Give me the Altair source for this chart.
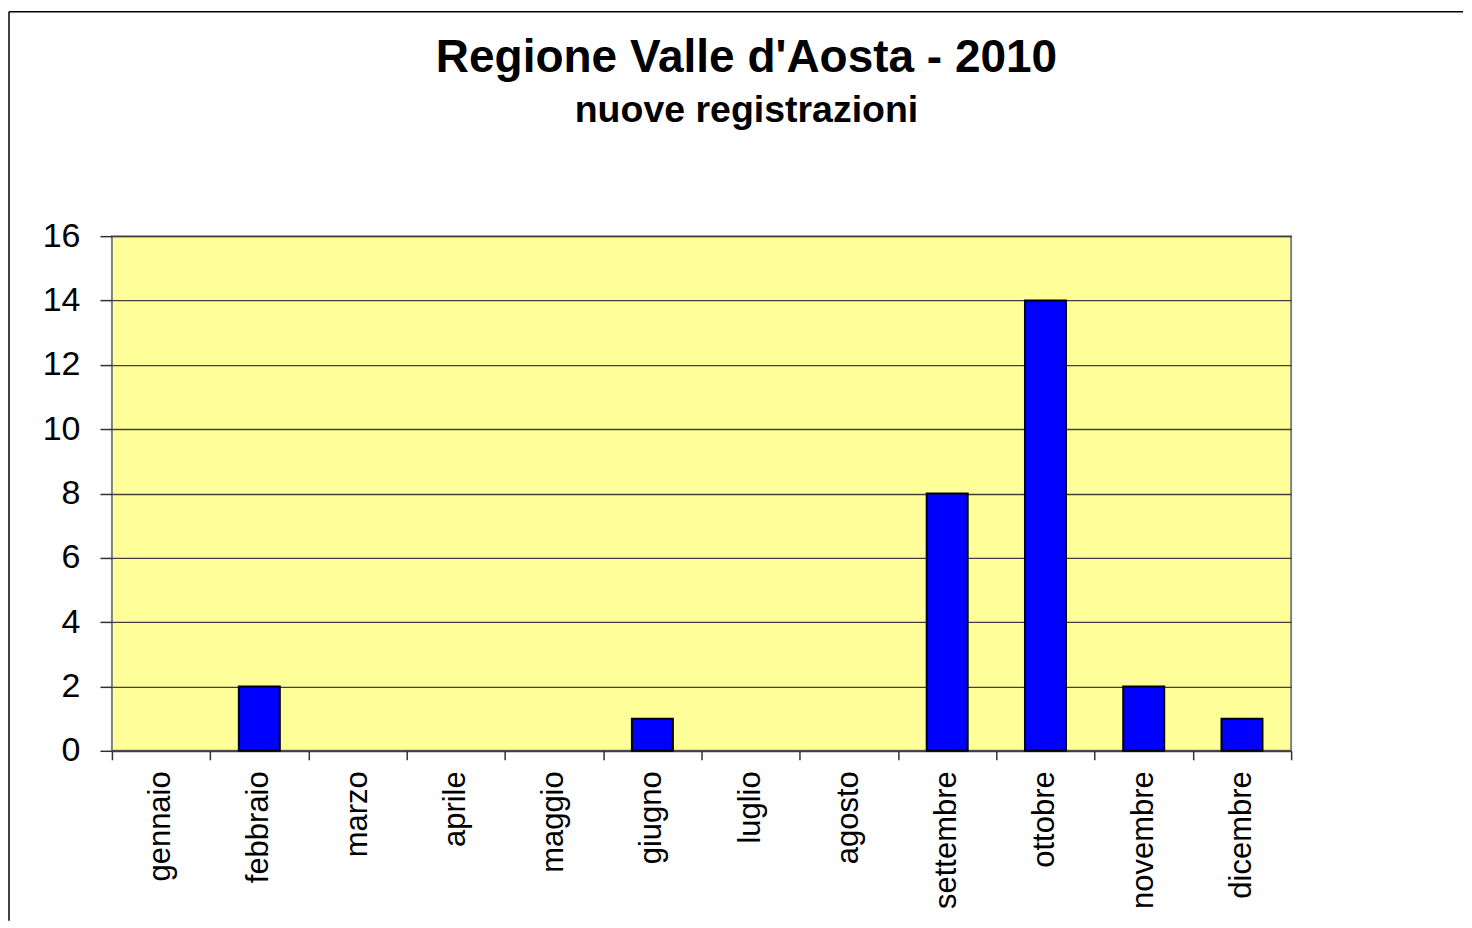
import altair as alt
import pandas as pd

# ---- data ----
months = ["gennaio", "febbraio", "marzo", "aprile", "maggio", "giugno",
          "luglio", "agosto", "settembre", "ottobre", "novembre", "dicembre"]
registrations = [0, 2, 0, 0, 0, 1, 0, 0, 8, 14, 2, 1]
month_numbers = list(range(1, 13))
y_tick_values = [0, 2, 4, 6, 8, 10, 12, 14, 16]
x_boundaries = list(range(0, 13))

df = pd.DataFrame({"mese": months, "n": month_numbers, "valore": registrations})
frame_df = pd.DataFrame({"cornice": [0]})

W, H = 1180, 515
FONT = "Liberation Sans"

bars = (
    alt.Chart(df)
    .transform_filter("datum.valore > 0")
    .mark_bar(color="#0000FF", stroke="#000000", strokeWidth=2)
    .encode(
        x=alt.X(
            "mese:N",
            sort=months,
            scale=alt.Scale(domain=months, paddingInner=0.583, paddingOuter=0.2915),
            axis=alt.Axis(
                title=None, labelAngle=-90, labelFontSize=31, labelFont=FONT,
                labelColor="#000000", labelPadding=20, ticks=False,
                domain=True, domainColor="#404040", domainWidth=2, grid=False,
                labelLimit=400,
            ),
        ),
        y=alt.Y(
            "valore:Q",
            scale=alt.Scale(domain=[0, 16], nice=False),
            axis=alt.Axis(
                title=None, values=y_tick_values, grid=True, gridColor="#404040",
                gridWidth=1.3, tickSize=12, tickColor="#333333", tickWidth=1.5,
                labelFontSize=34, labelFont=FONT, labelColor="#000000",
                labelPadding=20, domain=False, minExtent=80, maxExtent=80,
            ),
        ),
    )
)

ticks = (
    alt.Chart(df)
    .mark_point(opacity=0)
    .encode(
        x=alt.X(
            "n:Q",
            scale=alt.Scale(domain=[0, 12], nice=False, zero=False),
            axis=alt.Axis(
                orient="bottom", values=x_boundaries, labels=False, domain=False,
                grid=False, ticks=True, tickSize=9, tickColor="#333333",
                tickWidth=1.5, title=None,
            ),
        )
    )
)

frame_left = alt.Chart(frame_df).mark_rule(color="#000000", strokeWidth=1.5).encode(
    x=alt.value(-103), y=alt.value(-224.5), y2=alt.value(685)
)
frame_top = alt.Chart(frame_df).mark_rule(color="#000000", strokeWidth=1.5).encode(
    x=alt.value(-103), x2=alt.value(1352), y=alt.value(-224.5)
)

chart = (
    alt.layer(frame_left, frame_top, bars, ticks)
    .resolve_scale(x="independent")
    .properties(
        width=W,
        height=H,
        background="#FFFFFF",
        padding={"left": 0, "top": 2, "right": 0, "bottom": 0},
        title=alt.TitleParams(
            text="Regione Valle d'Aosta - 2010",
            subtitle="nuove registrazioni",
            font=FONT, subtitleFont=FONT, fontSize=46, subtitleFontSize=37.5,
            fontWeight="bold", subtitleFontWeight="bold",
            color="#000000", subtitleColor="#000000",
            anchor="middle", frame="group", dx=45, offset=-120,
            subtitlePadding=11,
        ),
    )
    .configure_view(fill="#FFFF99", stroke="#808080", strokeWidth=2)
)

chart.save("out.html", embed_options={"renderer": "svg", "actions": False})
